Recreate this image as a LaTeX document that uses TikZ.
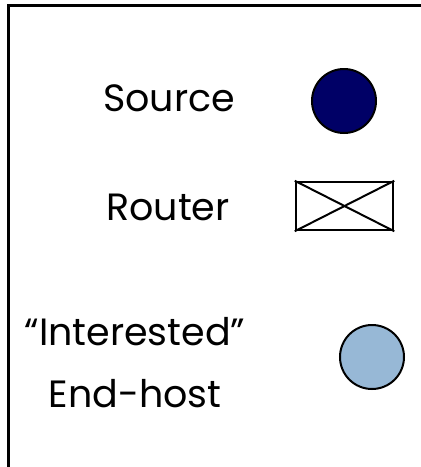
\documentclass[tikz,border=0pt]{standalone}
\usepackage{fontspec}
\setmainfont{Poppins}
\usetikzlibrary{positioning}
\definecolor{srcblue}{HTML}{000066}
\definecolor{hostblue}{HTML}{97B8D6}
\tikzset{
    label/.style = {
       align=center,
       font=\fontsize{38}{62}\selectfont,
       inner sep=0pt
    },
    srcnode/.style = {
       shape=circle,
       draw, line width=2pt,
       minimum size=64pt,
       fill = srcblue
    },
    hostnode/.style = {
       shape=circle,
       draw, line width=2pt,
       minimum size=64pt,
       fill = hostblue
    },
    routernode/.style = {
       shape=rectangle,
       draw, line width=2.5pt,
       minimum width = 97pt,
       minimum height = 48pt
    }
}
\begin{document}
\begin{tikzpicture}[x=1pt,y=-1pt,line join=miter]
   \useasboundingbox (0,0) rectangle (421,467);
   \draw[line width=3pt] (421,5) -- (8,5) -- (8,467);
   \node[srcnode] (Source) at (344,101) {};
   \node[routernode] (Router) at (344.5,206) {};
   \node[hostnode] (Host) at (372,357) {};
   \node[label] (SourceText) at (169,98) {Source};
   \node[label] (RouterText) at (168,207) {Router};
   \node[label, anchor=base] (HostText) at (135,407) {``Interested''\\End-host};
\path[draw, line width=2pt]
(Router.north west) -- (Router.south east)
(Router.south west) -- (Router.north east);
\end{tikzpicture}
\end{document}
